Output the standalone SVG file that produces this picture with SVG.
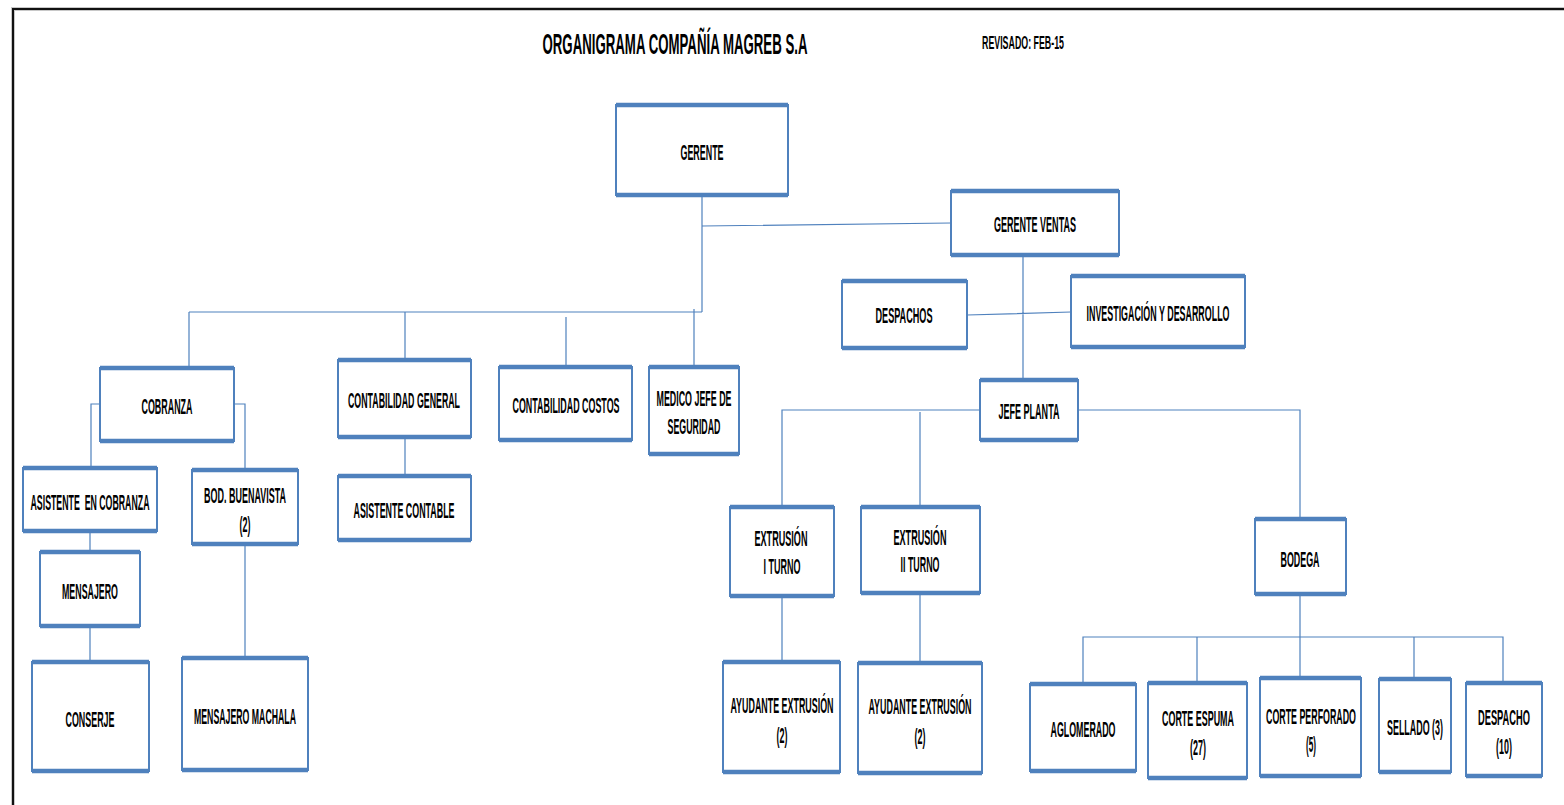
<svg xmlns="http://www.w3.org/2000/svg" width="1564" height="805" viewBox="0 0 1564 805">
<style>
.box{fill:#fff;stroke:#4f81bd;stroke-width:2}
.bar{fill:none;stroke:#4f81bd;stroke-width:4.5}
.t{font-family:"Liberation Sans",Arial,sans-serif;font-weight:bold;font-size:22px;fill:#000;text-anchor:middle}
.con{fill:none;stroke:#4f81bd;stroke-width:1.2}
</style>
<rect width="1564" height="805" fill="#fff"/>
<path d="M13 805 V9 H1564" fill="none" stroke="#c8c8c8" stroke-width="4"/>
<path d="M13 805 V9 H1564" fill="none" stroke="#111" stroke-width="2"/>
<g id="title">
<text class="t" x="675" y="54" style="font-size:29px" textLength="265" lengthAdjust="spacingAndGlyphs">ORGANIGRAMA COMPAÑÍA MAGREB S.A</text>
<text class="t" x="1023" y="49" style="font-size:18px" textLength="82" lengthAdjust="spacingAndGlyphs">REVISADO: FEB-15</text>
</g>
<g id="connectors">
<path class="con" d="M702 195 V312 M702 226 L951 223 M189 312 H702 M189 312 V368 M405 312 V360 M566 317 V367 M694 309 V367"/>
<path class="con" d="M100 404 H91 V468 M234 404 H245 V470 M90 531 V552 M90 626 V662 M245 544 V658 M405 437 V476"/>
<path class="con" d="M1023 255 V380 M967 315 L1071 312 M782 507 V410 H980 M1078 410 H1300 V519 M920 412 V507 M782 596 V662 M920 593 V663"/>
<path class="con" d="M1300 594 V637 M1083 684 V637 H1503 V683 M1197 637 V683 M1300 637 V678 M1414 637 V679"/>
</g>
<g id="gerente"><rect class="box" x="616" y="105" width="172" height="90"/><path class="bar" d="M616 105 H788 M616 195 H788"/><text class="t" x="702" y="160" textLength="43" lengthAdjust="spacingAndGlyphs">GERENTE</text></g>
<g id="gerente-ventas"><rect class="box" x="951" y="191" width="168" height="64"/><path class="bar" d="M951 191 H1119 M951 255 H1119"/><text class="t" x="1035" y="232" textLength="82" lengthAdjust="spacingAndGlyphs">GERENTE VENTAS</text></g>
<g id="despachos"><rect class="box" x="842" y="281" width="125" height="67"/><path class="bar" d="M842 281 H967 M842 348 H967"/><text class="t" x="904" y="323" textLength="57" lengthAdjust="spacingAndGlyphs">DESPACHOS</text></g>
<g id="investigacion"><rect class="box" x="1071" y="276" width="174" height="71"/><path class="bar" d="M1071 276 H1245 M1071 347 H1245"/><text class="t" x="1158" y="321" textLength="143" lengthAdjust="spacingAndGlyphs">INVESTIGACIÓN Y DESARROLLO</text></g>
<g id="jefe-planta"><rect class="box" x="980" y="380" width="98" height="60"/><path class="bar" d="M980 380 H1078 M980 440 H1078"/><text class="t" x="1029" y="419" textLength="61" lengthAdjust="spacingAndGlyphs">JEFE PLANTA</text></g>
<g id="cobranza"><rect class="box" x="100" y="368" width="134" height="73"/><path class="bar" d="M100 368 H234 M100 441 H234"/><text class="t" x="167" y="414" textLength="51" lengthAdjust="spacingAndGlyphs">COBRANZA</text></g>
<g id="contabilidad-general"><rect class="box" x="338" y="360" width="133" height="77"/><path class="bar" d="M338 360 H471 M338 437 H471"/><text class="t" x="404" y="408" textLength="112" lengthAdjust="spacingAndGlyphs">CONTABILIDAD GENERAL</text></g>
<g id="contabilidad-costos"><rect class="box" x="499" y="367" width="133" height="73"/><path class="bar" d="M499 367 H632 M499 440 H632"/><text class="t" x="566" y="413" textLength="107" lengthAdjust="spacingAndGlyphs">CONTABILIDAD COSTOS</text></g>
<g id="medico"><rect class="box" x="649" y="367" width="90" height="87"/><path class="bar" d="M649 367 H739 M649 454 H739"/><text class="t" x="694" y="406" textLength="75" lengthAdjust="spacingAndGlyphs">MEDICO JEFE DE</text><text class="t" x="694" y="434" textLength="53" lengthAdjust="spacingAndGlyphs">SEGURIDAD</text></g>
<g id="asistente-cobranza"><rect class="box" x="23" y="468" width="134" height="63"/><path class="bar" d="M23 468 H157 M23 531 H157"/><text class="t" x="90" y="510" textLength="119" lengthAdjust="spacingAndGlyphs" xml:space="preserve">ASISTENTE  EN COBRANZA</text></g>
<g id="bod-buenavista"><rect class="box" x="192" y="470" width="106" height="74"/><path class="bar" d="M192 470 H298 M192 544 H298"/><text class="t" x="245" y="503" textLength="82" lengthAdjust="spacingAndGlyphs">BOD. BUENAVISTA</text><text class="t" x="245" y="532" textLength="11" lengthAdjust="spacingAndGlyphs">(2)</text></g>
<g id="asistente-contable"><rect class="box" x="338" y="476" width="133" height="64"/><path class="bar" d="M338 476 H471 M338 540 H471"/><text class="t" x="404" y="518" textLength="101" lengthAdjust="spacingAndGlyphs">ASISTENTE CONTABLE</text></g>
<g id="mensajero"><rect class="box" x="40" y="552" width="100" height="74"/><path class="bar" d="M40 552 H140 M40 626 H140"/><text class="t" x="90" y="599" textLength="56" lengthAdjust="spacingAndGlyphs">MENSAJERO</text></g>
<g id="conserje"><rect class="box" x="32" y="662" width="117" height="109"/><path class="bar" d="M32 662 H149 M32 771 H149"/><text class="t" x="90" y="727" textLength="49" lengthAdjust="spacingAndGlyphs">CONSERJE</text></g>
<g id="mensajero-machala"><rect class="box" x="182" y="658" width="126" height="112"/><path class="bar" d="M182 658 H308 M182 770 H308"/><text class="t" x="245" y="724" textLength="102" lengthAdjust="spacingAndGlyphs">MENSAJERO MACHALA</text></g>
<g id="extrusion-1"><rect class="box" x="730" y="507" width="104" height="89"/><path class="bar" d="M730 507 H834 M730 596 H834"/><text class="t" x="781" y="546" textLength="53" lengthAdjust="spacingAndGlyphs">EXTRUSIÓN</text><text class="t" x="782" y="574" textLength="37" lengthAdjust="spacingAndGlyphs">I TURNO</text></g>
<g id="extrusion-2"><rect class="box" x="861" y="507" width="119" height="86"/><path class="bar" d="M861 507 H980 M861 593 H980"/><text class="t" x="920" y="545" textLength="53" lengthAdjust="spacingAndGlyphs">EXTRUSIÓN</text><text class="t" x="920" y="572" textLength="39" lengthAdjust="spacingAndGlyphs">II TURNO</text></g>
<g id="bodega"><rect class="box" x="1255" y="519" width="91" height="75"/><path class="bar" d="M1255 519 H1346 M1255 594 H1346"/><text class="t" x="1300" y="567" textLength="39" lengthAdjust="spacingAndGlyphs">BODEGA</text></g>
<g id="ayudante-1"><rect class="box" x="723" y="662" width="117" height="110"/><path class="bar" d="M723 662 H840 M723 772 H840"/><text class="t" x="782" y="713" textLength="103" lengthAdjust="spacingAndGlyphs">AYUDANTE EXTRUSIÓN</text><text class="t" x="782" y="743" textLength="11" lengthAdjust="spacingAndGlyphs">(2)</text></g>
<g id="ayudante-2"><rect class="box" x="858" y="663" width="124" height="110"/><path class="bar" d="M858 663 H982 M858 773 H982"/><text class="t" x="920" y="714" textLength="103" lengthAdjust="spacingAndGlyphs">AYUDANTE EXTRUSIÓN</text><text class="t" x="920" y="744" textLength="11" lengthAdjust="spacingAndGlyphs">(2)</text></g>
<g id="aglomerado"><rect class="box" x="1030" y="684" width="106" height="87"/><path class="bar" d="M1030 684 H1136 M1030 771 H1136"/><text class="t" x="1083" y="737" textLength="65" lengthAdjust="spacingAndGlyphs">AGLOMERADO</text></g>
<g id="corte-espuma"><rect class="box" x="1148" y="683" width="99" height="95"/><path class="bar" d="M1148 683 H1247 M1148 778 H1247"/><text class="t" x="1198" y="726" textLength="72" lengthAdjust="spacingAndGlyphs">CORTE ESPUMA</text><text class="t" x="1198" y="755" textLength="16" lengthAdjust="spacingAndGlyphs">(27)</text></g>
<g id="corte-perforado"><rect class="box" x="1260" y="678" width="101" height="98"/><path class="bar" d="M1260 678 H1361 M1260 776 H1361"/><text class="t" x="1311" y="724" textLength="90" lengthAdjust="spacingAndGlyphs">CORTE PERFORADO</text><text class="t" x="1311" y="752" textLength="10" lengthAdjust="spacingAndGlyphs">(5)</text></g>
<g id="sellado"><rect class="box" x="1379" y="679" width="72" height="93"/><path class="bar" d="M1379 679 H1451 M1379 772 H1451"/><text class="t" x="1415" y="735" textLength="56" lengthAdjust="spacingAndGlyphs">SELLADO (3)</text></g>
<g id="despacho"><rect class="box" x="1466" y="683" width="76" height="93"/><path class="bar" d="M1466 683 H1542 M1466 776 H1542"/><text class="t" x="1504" y="725" textLength="52" lengthAdjust="spacingAndGlyphs">DESPACHO</text><text class="t" x="1504" y="754" textLength="16" lengthAdjust="spacingAndGlyphs">(10)</text></g>
</svg>
